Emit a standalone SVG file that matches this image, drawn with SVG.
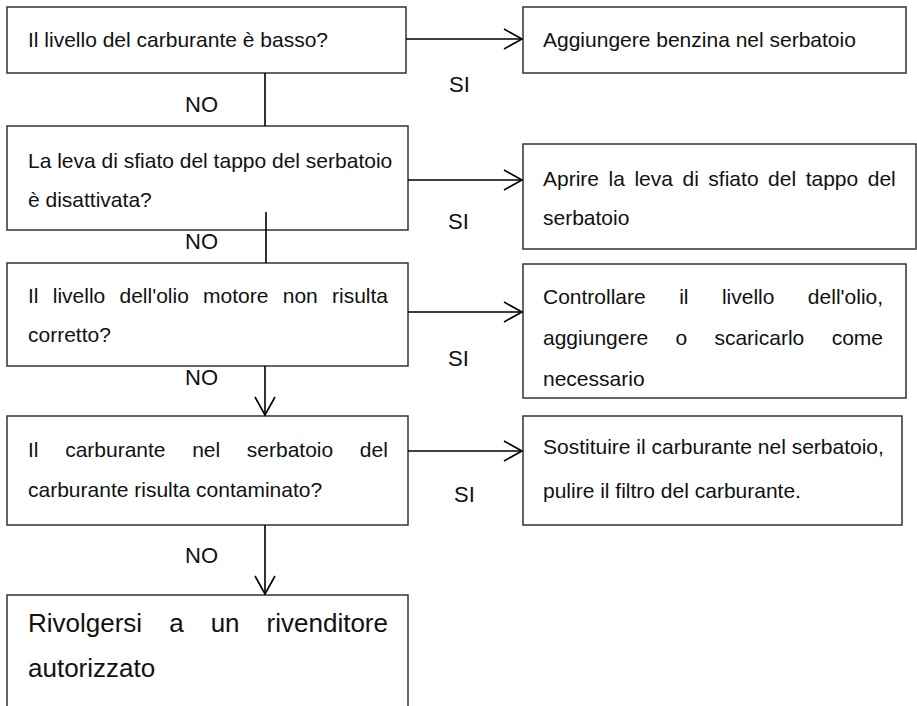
<svg xmlns="http://www.w3.org/2000/svg" width="917" height="706" viewBox="0 0 917 706">
<style>
.box{fill:#fff;stroke:#333;stroke-width:1.5}
.t{font-family:"Liberation Sans",Arial,sans-serif;font-size:21px;fill:#111}
.big{font-size:26px}
.lbl{font-size:22px}
.conn{fill:none;stroke:#000;stroke-width:1.6}
</style>
<defs>
<marker id="arr" markerUnits="userSpaceOnUse" markerWidth="22" markerHeight="24" refX="18" refY="10" orient="auto" viewBox="-2 -2 22 24">
<path d="M0,0 L18,10 L0,20" fill="none" stroke="#000" stroke-width="1.6"/>
</marker>
</defs>
<rect width="917" height="706" fill="#fff"/>
<g id="q1">
<rect class="box" x="7" y="7" width="399" height="66"/>
<text class="t" x="28" y="47">Il livello del carburante è basso?</text>
</g>
<g id="a1">
<rect class="box" x="523" y="7" width="383" height="66"/>
<text class="t" x="543" y="47">Aggiungere benzina nel serbatoio</text>
</g>
<g id="q2">
<rect class="box" x="7" y="126" width="401" height="104"/>
<text class="t" x="28" y="168">La leva di sfiato del tappo del serbatoio</text>
<text class="t" x="28" y="207">è disattivata?</text>
</g>
<g id="a2">
<rect class="box" x="523" y="144" width="393" height="105"/>
<text class="t" x="543" y="186" style="word-spacing:3.7px">Aprire la leva di sfiato del tappo del</text>
<text class="t" x="543" y="225">serbatoio</text>
</g>
<g id="q3">
<rect class="box" x="7" y="263" width="401" height="103"/>
<text class="t" x="28" y="303" style="word-spacing:8.4px">Il livello dell'olio motore non risulta</text>
<text class="t" x="28" y="342">corretto?</text>
</g>
<g id="a3">
<rect class="box" x="523" y="264" width="383" height="134"/>
<text class="t" x="543" y="304" style="word-spacing:27.6px">Controllare il livello dell'olio,</text>
<text class="t" x="543" y="345" style="word-spacing:21.5px">aggiungere o scaricarlo come</text>
<text class="t" x="543" y="386">necessario</text>
</g>
<g id="q4">
<rect class="box" x="7" y="416" width="401" height="109"/>
<text class="t" x="28" y="457" style="word-spacing:20.8px">Il carburante nel serbatoio del</text>
<text class="t" x="28" y="497">carburante risulta contaminato?</text>
</g>
<g id="a4">
<rect class="box" x="523" y="416" width="379" height="109"/>
<text class="t" x="543" y="454">Sostituire il carburante nel serbatoio,</text>
<text class="t" x="543" y="498">pulire il filtro del carburante.</text>
</g>
<g id="end">
<rect class="box" x="7" y="595" width="401" height="120"/>
<text class="t big" x="28" y="632" style="word-spacing:19.8px">Rivolgersi a un rivenditore</text>
<text class="t big" x="28" y="677">autorizzato</text>
</g>
<g id="connectors">
<path class="conn" d="M406,39 H522" marker-end="url(#arr)"/>
<path class="conn" d="M408,180 H522" marker-end="url(#arr)"/>
<path class="conn" d="M408,312 H522" marker-end="url(#arr)"/>
<path class="conn" d="M408,451 H522" marker-end="url(#arr)"/>
<path class="conn" d="M265,73 V126"/>
<path class="conn" d="M266,212 V263"/>
<path class="conn" d="M265,366 V415" marker-end="url(#arr)"/>
<path class="conn" d="M265,525 V594" marker-end="url(#arr)"/>
<text class="t lbl" x="449" y="92">SI</text>
<text class="t lbl" x="448" y="229">SI</text>
<text class="t lbl" x="448" y="366">SI</text>
<text class="t lbl" x="454" y="502">SI</text>
<text class="t lbl" x="185" y="112">NO</text>
<text class="t lbl" x="185" y="249">NO</text>
<text class="t lbl" x="185" y="385">NO</text>
<text class="t lbl" x="185" y="563">NO</text>
</g>
</svg>
